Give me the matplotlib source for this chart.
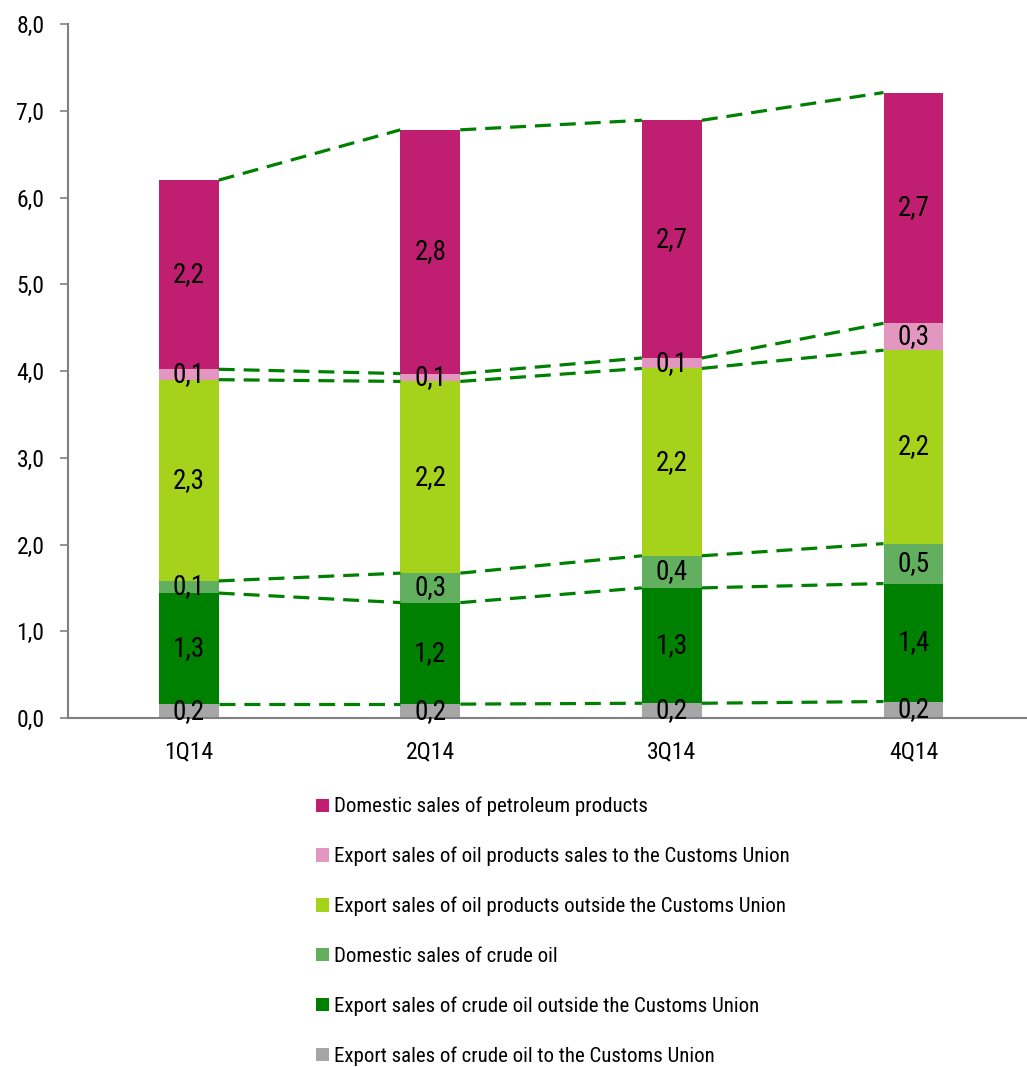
import matplotlib
matplotlib.use("Agg")
import matplotlib.pyplot as plt
import numpy as np

plt.rcParams['font.family'] = ['Roboto Condensed', 'Liberation Sans', 'DejaVu Sans']

quarters = ["1Q14", "2Q14", "3Q14", "4Q14"]
# bottom to top
series_names = [
    "Export sales of crude oil to the Customs Union",
    "Export sales of crude oil outside the Customs Union",
    "Domestic sales of crude oil",
    "Export sales of oil products outside the Customs Union",
    "Export sales of oil products sales to the Customs Union",
    "Domestic sales of petroleum products",
]
crude_export_cu = [0.16, 0.16, 0.17, 0.19]
crude_export_out = [1.28, 1.17, 1.33, 1.36]
crude_domestic = [0.14, 0.34, 0.37, 0.46]
products_export_out = [2.32, 2.21, 2.16, 2.23]
products_export_cu = [0.12, 0.09, 0.12, 0.31]
products_domestic = [2.18, 2.81, 2.74, 2.66]

series = [crude_export_cu, crude_export_out, crude_domestic,
          products_export_out, products_export_cu, products_domestic]
colors = ["#A6A6A6", "#008000", "#62AF5F", "#A5D21A", "#E396BF", "#C01E70"]

W, H = 1027, 1067
fig = plt.figure(figsize=(W/100, H/100), dpi=100)
ax = fig.add_axes([68/W, 1-718/H, (W-68)/W, (718-24)/H])

x = np.arange(len(quarters))
bw = 0.248
bottom = np.zeros(len(quarters))
bars = []
for vals, c, name in zip(series, colors, series_names):
    v = np.array(vals)
    b = ax.bar(x, v, bw, bottom=bottom, color=c, label=name, zorder=2)
    bars.append(b)
    for xi, vi, bi in zip(x, v, bottom):
        ax.text(xi, bi + vi/2, f"{vi:.1f}".replace(".", ","), ha="center", va="center",
                fontsize=19.5, color="black", zorder=4)
    top = bottom + v
    for i in range(len(x)-1):
        ax.plot([x[i]+bw/2, x[i+1]-bw/2], [top[i], top[i+1]], color="#008000",
                lw=2.3, ls=(0, (5, 2.8)), zorder=3)
    bottom = top

ax.set_xlim(-0.5, 3.47)
ax.set_ylim(0, 8)
ax.set_yticks(np.arange(0, 8.01, 1))
ax.set_yticklabels([f"{t:.1f}".replace(".", ",") for t in np.arange(0, 8.01, 1)])
ax.set_xticks(x)
ax.set_xticklabels(quarters)
ax.tick_params(axis="y", labelsize=17, length=6, color="#808080", width=1.2, pad=11)
ax.tick_params(axis="x", labelsize=17, length=0, pad=16)
for s in ["top", "right"]:
    ax.spines[s].set_visible(False)
for s in ["left", "bottom"]:
    ax.spines[s].set_color("#808080")
    ax.spines[s].set_linewidth(1.5)

handles = [b for b in bars][::-1]
labels = series_names[::-1]
fig.legend(handles, labels, loc="upper left", bbox_to_anchor=(316/W, 1-797/H),
           frameon=False, fontsize=15, handlelength=0.6, handleheight=0.6,
           handletextpad=0.25, labelspacing=1.46, borderpad=0, borderaxespad=0)

fig.savefig("out.png", dpi=100)
